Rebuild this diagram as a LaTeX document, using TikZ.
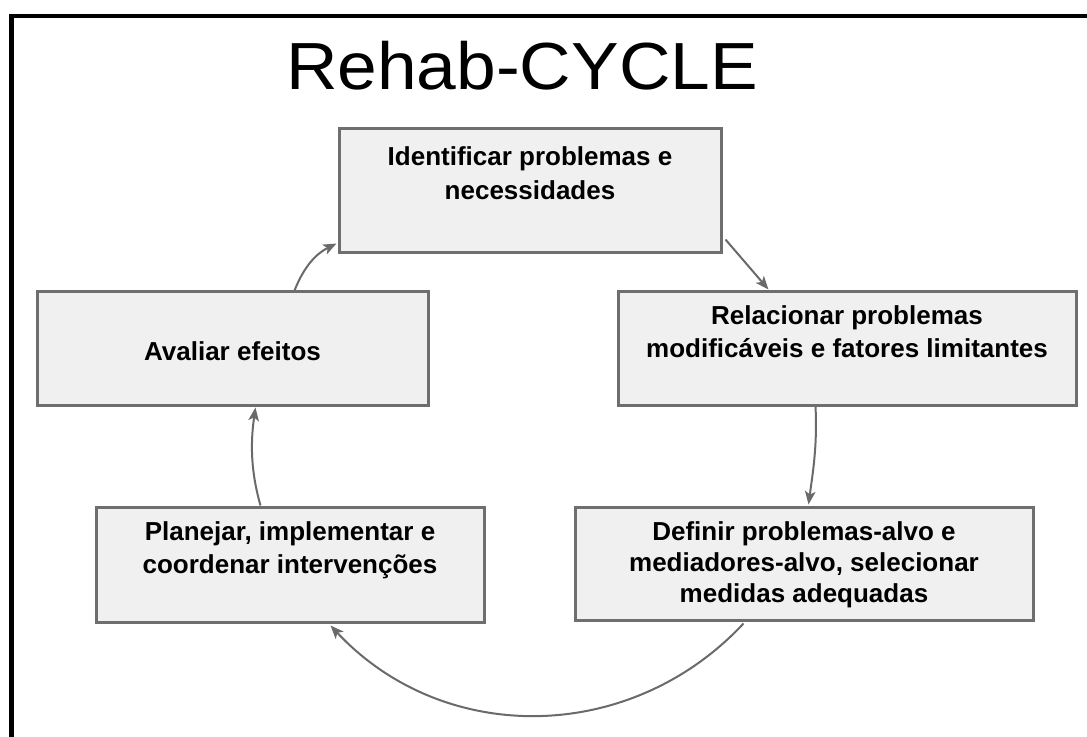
\documentclass[tikz,border=0pt]{standalone}
\usepackage{fontspec}
\setmainfont{Liberation Sans}
\usetikzlibrary{arrows.meta,calc}
\definecolor{boxfill}{HTML}{F0F0F0}
\definecolor{boxline}{HTML}{6E6E6E}
\definecolor{arrowcol}{HTML}{6A6A6A}
\begin{document}
\begin{tikzpicture}[x=0.75pt,y=-0.75pt,
  box/.style={draw=boxline,line width=2.25pt,fill=boxfill,inner sep=0pt},
  boxtext/.style={font=\bfseries\fontsize{19.5}{25}\selectfont,align=center,anchor=north,inner sep=0pt},
  conn/.style={draw=arrowcol,line width=1.5pt,-{Stealth[length=10pt,width=8pt,inset=2.5pt]}}]
\useasboundingbox (0,0) rectangle (1087,737);
\clip (0,0) rectangle (1087,737);
\draw[line width=3.5pt] (11.5,760) -- (11.5,16) -- (1100,16);

\node[font=\fontsize{50}{60}\selectfont, anchor=base, inner sep=0pt] (title) at (522,90) {\scalebox{1.07}[1]{Rehab-CYCLE}};

\node[box, minimum width=286.5pt, minimum height=93pt] (b1) at (530,191) {};
\node[box, minimum width=343.5pt, minimum height=84.75pt] (b2) at (847,348.5) {};
\node[box, minimum width=343.5pt, minimum height=84.75pt] (b3) at (804,563.5) {};
\node[box, minimum width=291pt, minimum height=86.25pt] (b4) at (290,564.5) {};
\node[box, minimum width=293.25pt, minimum height=84.75pt] (b5) at (232.5,348.5) {};

\node[boxtext, font=\bfseries\fontsize{19.5}{26}\selectfont] (t1) at (530,146) {Identificar problemas e\\necessidades};
\node[boxtext, font=\bfseries\fontsize{19.5}{25}\selectfont] (t2) at (847,305) {Relacionar problemas\\modificáveis e fatores limitantes};
\node[boxtext, font=\bfseries\fontsize{19.5}{23.25}\selectfont] (t3) at (804,521) {Definir problemas-alvo e\\mediadores-alvo, selecionar\\medidas adequadas};
\node[boxtext, font=\bfseries\fontsize{19.5}{24.75}\selectfont] (t4) at (290,521) {Planejar, implementar e\\coordenar intervenções};
\node[boxtext] (t5) at (232.5,341) {Avaliar efeitos};

\draw[conn] ($(b1.south east)+(3,-15)$) -- ($(b2.north west)+(152,-1)$);
\draw[conn] ($(b2.south west)+(199,0)$) .. controls +(2,40) and +(4,-30) .. ($(b3.north west)+(235,-1)$);
\draw[conn] ($(b3.south west)+(170,2)$) .. controls +(-113,121) and +(113,121) .. ($(b4.south west)+(236,2)$);
\draw[conn] ($(b4.north west)+(166,0)$) .. controls +(-10,-35) and +(-5,35) .. ($(b5.south west)+(220,1)$);
\draw[conn] ($(b5.north west)+(259,0)$) .. controls +(10,-25) and +(-20,10) .. ($(b1.south west)+(-1,-11)$);
\end{tikzpicture}
\end{document}
